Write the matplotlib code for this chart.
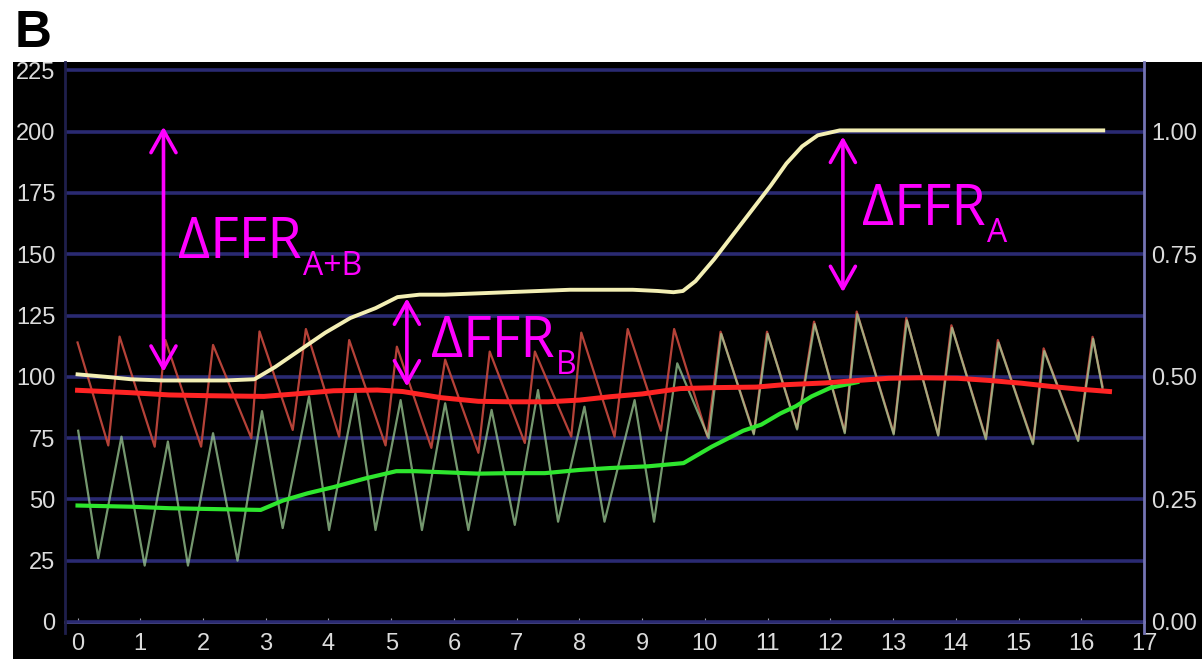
import matplotlib
matplotlib.use("Agg")
import matplotlib.pyplot as plt
from matplotlib.patches import Rectangle

# -----------------------------
# Traces (time in s, pressure in mmHg)
# -----------------------------
# FFR trace, drawn on the pressure scale (1.00 == 200)
ffr_t = [0.0, 0.45, 0.85, 1.35, 1.85, 2.35, 2.82, 3.15, 3.55, 3.95, 4.35, 4.75,
         5.1, 5.45, 5.85, 6.35, 6.85, 7.35, 7.85, 8.35, 8.85, 9.25, 9.5, 9.65,
         9.85, 10.15, 10.45, 10.75, 11.05, 11.3, 11.55, 11.8, 12.15, 12.85,
         13.85, 14.85, 15.85, 16.35]
ffr_v = [101, 100, 99, 98.5, 98.5, 98.5, 99, 104, 111, 118, 124, 128,
         132.5, 133.5, 133.5, 134, 134.5, 135, 135.5, 135.5, 135.5, 135, 134.5, 135,
         139, 148, 158, 168, 178, 187, 194, 198.5, 200.5, 200.5,
         200.5, 200.5, 200.5, 200.5]

# mean aortic pressure (Pa)
pa_mean_t = [0.0, 0.86, 1.46, 2.06, 2.97, 3.47, 4.08, 4.78, 5.18, 5.79, 6.39,
             6.89, 7.5, 8.0, 8.5, 9.0, 9.61, 10.21, 10.82, 11.22, 11.92, 12.43,
             12.93, 13.43, 14.03, 14.54, 15.04, 15.54, 15.95, 16.45]
pa_mean_v = [94.5, 93.5, 92.6, 92.3, 92, 93, 94.3, 94.6, 94, 91.5, 90,
             89.8, 89.8, 90.5, 91.9, 93, 95.2, 95.6, 95.8, 96.7, 97.5, 98.5,
             99.4, 99.6, 99.4, 98.5, 97.4, 96, 95, 94]

# mean distal pressure (Pd)
pd_mean_t = [0.0, 0.86, 1.46, 2.26, 2.92, 3.27, 3.67, 4.08, 4.58, 5.08, 5.38,
             5.89, 6.39, 6.89, 7.45, 8.0, 8.5, 9.1, 9.66, 10.11, 10.61, 10.9,
             11.2, 11.45, 11.7, 12.0, 12.43]
pd_mean_v = [47.5, 47, 46.4, 46, 45.7, 49.5, 52.5, 55, 58.5, 61.5, 61.5,
             61, 60.5, 60.7, 60.7, 62, 62.8, 63.5, 64.8, 71.5, 78, 80.5,
             85, 88, 92, 95.5, 97.8]

# phasic aortic pressure: start, trough/peak per beat, end
pa_start = (0.0, 114)
pa_trough_t = [0.49, 1.23, 1.97, 2.77, 3.43, 4.17, 4.91, 5.64, 6.39, 7.13, 7.87,
               8.56, 9.3, 10.04, 10.78, 11.47, 12.23, 13.01, 13.72, 14.48, 15.23, 15.95]
pa_trough_v = [72, 71.5, 71.5, 75, 78.3, 75.6, 72, 71, 69, 73, 75.6,
               75.6, 78, 75.6, 77, 79, 77.6, 77, 76.3, 75, 73, 74.2]
pa_peak_t = [0.67, 1.40, 2.16, 2.9, 3.64, 4.33, 5.09, 5.86, 6.57, 7.29, 8.03,
             8.77, 9.51, 10.25, 10.99, 11.74, 12.42, 13.21, 13.93, 14.67, 15.4, 16.18]
pa_peak_v = [116.4, 115, 113, 118.5, 119.5, 115, 112.3, 107, 110.3, 110.3, 118,
             119.5, 119.5, 118.4, 118.4, 122.5, 126.6, 124, 121, 115, 111.6, 116.3]
pa_end = (16.34, 96)

# phasic distal pressure
pd_start = (0.01, 78)
pd_trough_t = [0.33, 1.07, 1.76, 2.55, 3.27, 4.01, 4.75, 5.49, 6.23, 6.97, 7.66,
               8.4, 9.19, 10.06, 10.78, 11.47, 12.23, 13.01, 13.72, 14.48, 15.23, 15.95]
pd_trough_v = [26, 23, 23, 25, 38.3, 37.5, 37.5, 37.5, 37.5, 39.6, 40.9,
               40.9, 40.9, 75, 76.5, 78.5, 77, 76.5, 76, 74.5, 72.5, 73.8]
pd_peak_t = [0.70, 1.44, 2.16, 2.94, 3.69, 4.43, 5.15, 5.86, 6.6, 7.34, 8.08,
             8.88, 9.56, 10.26, 11.0, 11.75, 12.43, 13.22, 13.94, 14.68, 15.41, 16.19]
pd_peak_v = [75.6, 73.6, 77, 86, 92, 93.3, 90.5, 89.2, 86.5, 94.6, 87.8,
             90.5, 105.5, 117.5, 117.5, 121.5, 125.5, 123, 120, 114, 110.5, 115.5]
pd_end = (16.34, 95)

# annotations: subscript, arrow x, arrow bottom, arrow top, label x, label baseline
deltas = [
    ("A+B", 1.37, 102, 202, 1.60, 148.4),
    ("B", 5.25, 96, 132, 5.64, 108.0),
    ("A", 12.20, 134.5, 198, 12.50, 162.0),
]

y_ticks = [0, 25, 50, 75, 100, 125, 150, 175, 200, 225]
x_ticks = list(range(0, 18))
ratio_ticks = [0.0, 0.25, 0.5, 0.75, 1.0]
ratio_labels = ["0.00", "0.25", "0.50", "0.75", "1.00"]

W, H = 1202, 659
MAGENTA = "#ff00ff"
LABEL = "#dcdcdc"


def phasic(start, tr_t, tr_v, pk_t, pk_v, end):
    t, v = [start[0]], [start[1]]
    for a, b, c, d in zip(tr_t, tr_v, pk_t, pk_v):
        t += [a, c]
        v += [b, d]
    t.append(end[0])
    v.append(end[1])
    return t, v


plt.rcParams["font.family"] = ["Liberation Sans", "DejaVu Sans"]

fig = plt.figure(figsize=(W / 100, H / 100), dpi=100, facecolor="white")
fig.patches.append(Rectangle((13 / W, 0), 1, (H - 62) / H, transform=fig.transFigure,
                             facecolor="black", edgecolor="none", zorder=-10))

ax = fig.add_axes([65 / W, 1 - 633 / H, (1144 - 65) / W, (633 - 62) / H])
ax.set_facecolor("black")
ax.set_xlim(-0.2, 16.93)
ax.set_ylim(-4.5, 228.4)

ax.set_yticks(y_ticks)
ax.set_xticks(x_ticks)
ax.grid(axis="y", color="#2a2a72", lw=2.6, zorder=0)
ax.grid(axis="x", visible=False)

for s in ["top", "right"]:
    ax.spines[s].set_visible(False)
ax.spines["left"].set_color("#1f1f4c")
ax.spines["left"].set_linewidth(2)
ax.spines["bottom"].set_position(("data", 0))
ax.spines["bottom"].set_color("#a4a4ae")
ax.spines["bottom"].set_linewidth(2)
ax.spines["bottom"].set_zorder(1)

ax.tick_params(axis="y", length=0, pad=7, labelsize=17, labelcolor=LABEL)
ax.tick_params(axis="x", direction="in", length=3, color="#a4a4ae", pad=8,
               labelsize=17, labelcolor=LABEL)

# phasic pressures
pa_t, pa_v = phasic(pa_start, pa_trough_t, pa_trough_v, pa_peak_t, pa_peak_v, pa_end)
pd_t, pd_v = phasic(pd_start, pd_trough_t, pd_trough_v, pd_peak_t, pd_peak_v, pd_end)
ax.plot(pa_t, pa_v, color="#c0463c", lw=1.6, alpha=0.95, zorder=2,
        solid_joinstyle="round")
ax.plot(pd_t, pd_v, color="#a2d29a", lw=1.6, alpha=0.72, zorder=3,
        solid_joinstyle="round")

# mean pressures and FFR
ax.plot(pd_mean_t, pd_mean_v, color="#2ee62e", lw=3, zorder=4)
ax.plot(pa_mean_t, pa_mean_v, color="#ff2424", lw=3.6, zorder=5)
ax.plot(ffr_t, ffr_v, color="#f3efb4", lw=2.8, zorder=6)

# delta FFR arrows + labels
for sub, ax_x, y0, y1, tx, ty in deltas:
    ax.annotate("", xy=(ax_x, y1), xytext=(ax_x, y0),
                arrowprops=dict(arrowstyle="<->,head_length=0.8,head_width=0.45",
                                color=MAGENTA, lw=2.6, shrinkA=0, shrinkB=0,
                                mutation_scale=20),
                zorder=8)
    main = ax.text(tx, ty, "\u0394FFR", color=MAGENTA, fontsize=40,
                   family=["Open Sans", "DejaVu Sans"], va="baseline", zorder=8)
    ax.annotate(sub, xy=(1, 0), xycoords=main, xytext=(1, -2),
                textcoords="offset points", color=MAGENTA, fontsize=23,
                family=["Open Sans", "DejaVu Sans"], va="baseline", ha="left",
                zorder=8)

# right-hand FFR scale
ax2 = ax.twinx()
lo, hi = ax.get_ylim()
ax2.set_ylim(lo / 200, hi / 200)
ax2.set_yticks(ratio_ticks)
ax2.set_yticklabels(ratio_labels)
ax2.tick_params(axis="y", length=0, pad=5, labelsize=17, labelcolor=LABEL)
for s in ["top", "left", "bottom"]:
    ax2.spines[s].set_visible(False)
ax2.spines["right"].set_color("#7474b4")
ax2.spines["right"].set_linewidth(2)

fig.text(15 / W, 1 - 47 / H, "B", fontsize=37, fontweight="bold", color="black",
         va="baseline", ha="left")

fig.savefig("out.png", dpi=100, facecolor=fig.get_facecolor())
